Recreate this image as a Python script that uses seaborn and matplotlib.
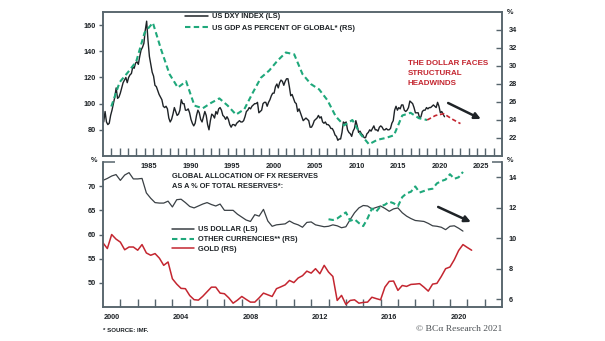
import numpy as np
import pandas as pd
import matplotlib
matplotlib.use("Agg")
import matplotlib.pyplot as plt
from matplotlib.lines import Line2D
import seaborn as sns

sns.set_theme(style="white")
plt.rcParams["font.family"] = ["Liberation Sans", "DejaVu Sans"]
plt.rcParams["font.weight"] = "bold"

INK = "#1e2327"
SPINE = "#56646c"
GREEN = "#1fa87b"
RED = "#c42630"
USD_GREY = "#3a4045"

# ---------------- top panel data ----------------
# US dollar index, bi-monthly readings from 1980
dxy_start = 1980
dxy_per_year = 6
dxy_values = [
    86, 94, 86, 84, 85, 91,
    95, 100, 105, 112, 104, 105,
    108, 112, 116, 118, 120, 116,
    120, 122, 123, 128, 127, 131,
    132, 130, 136, 141, 143, 146,
    156, 163, 148, 136, 130, 124,
    121, 114, 113, 110, 107, 105,
    103, 98, 97, 98, 96, 89,
    86, 88, 92, 97, 94, 91,
    92, 95, 103, 100, 100, 95,
    95, 96, 93, 88, 85, 83,
    85, 91, 95, 93, 88, 86,
    90, 94, 91, 84, 80, 87,
    92, 91, 89, 94, 92, 96,
    97, 95, 91, 90, 88, 90,
    88, 84, 82, 84, 84, 83,
    85, 86, 87, 86, 86, 87,
    90, 94, 95, 97, 96, 98,
    99, 100, 100, 101, 93, 94,
    95, 100, 101, 101, 98, 101,
    103, 106, 108, 108, 113, 115,
    112, 116, 118, 117, 114, 117,
    119, 119, 113, 106, 107, 104,
    101, 100, 94, 96, 93, 90,
    87, 88, 89, 88, 87, 82,
    82, 84, 87, 88, 89, 91,
    89, 90, 86, 85, 86, 84,
    84, 83, 81, 81, 79, 76,
    75, 72, 73, 73, 78, 86,
    85, 86, 80, 78, 77, 75,
    79, 81, 87, 83, 78, 79,
    77, 76, 74, 74, 77, 78,
    80, 79, 81, 83, 80, 80,
    79, 82, 83, 82, 80, 80,
    81, 80, 80, 81, 85, 87,
    95, 98, 95, 97, 96, 99,
    99, 95, 94, 95, 97, 102,
    101, 100, 97, 93, 93, 93,
    89, 90, 94, 95, 95, 97,
    96, 97, 97, 98, 99, 98,
    97, 101, 98, 93, 94, 92,
    90,
]

# US GDP as a percent of global GDP
gdp_years = list(range(1981, 2020))
gdp_share = [
    25.5, 28.2, 29.3, 30.5, 33.7, 34.8, 31.8, 29.1, 27.6, 28.3,
    25.6, 25.3, 25.9, 26.4, 25.6, 24.6, 25.2, 27.0, 28.7, 29.5,
    30.6, 31.5, 31.3, 29.1, 28.0, 27.4, 26.2, 24.4, 23.4, 24.0,
    22.4, 21.3, 21.8, 22.0, 22.3, 24.5, 24.8, 24.2, 24.0,
]
gdp_proj_years = [2019, 2020, 2021, 2022, 2023]
gdp_proj_share = [24.0, 24.5, 24.7, 24.1, 23.6]

top_tick_labels = ["1985", "1990", "1995", "2000", "2005", "2010", "2015", "2020", "2025"]

# ---------------- bottom panel data (quarterly) ----------------
usd_start = 2000.0
usd_share = [
    71.2, 71.6, 72.1, 72.4, 71.2, 72.3, 72.8, 71.5,
    71.5, 71.6, 68.6, 67.5, 66.6, 66.5, 66.5, 66.9,
    65.7, 67.2, 67.3, 66.6, 65.8, 65.5, 65.9, 66.3,
    66.6, 66.2, 65.9, 66.3, 65.0, 65.0, 65.0, 64.2,
    63.6, 63.0, 62.7, 64.1, 63.8, 65.2, 62.8, 61.7,
    62.0, 62.1, 62.2, 62.8, 62.3, 62.0, 61.5, 62.5,
    62.6, 62.0, 61.8, 61.6, 61.7, 62.0, 61.8, 61.4,
    61.6, 63.1, 64.5, 65.5, 66.0, 65.9, 65.3, 65.6,
    65.9, 65.4, 64.8, 65.3, 65.5, 64.5, 63.8, 63.3,
    62.9, 62.8, 62.7, 62.3, 61.8, 61.7, 61.5, 61.0,
    61.7, 61.8, 61.3, 60.7,
]
other_start = 2013.0
other_share = [
    11.25, 11.2, 11.3, 11.5, 11.7, 11.15, 11.25, 11.0,
    10.8, 11.3, 11.95, 11.75, 12.1, 12.2, 12.4, 12.3,
    12.1, 12.7, 12.95, 13.05, 13.4, 13.0, 13.1, 13.2,
    13.25, 13.6, 13.75, 13.85, 14.2, 13.9, 14.0, 14.35,
]
gold_start = 2000.0
gold_share = [
    9.70, 9.33, 10.25, 9.95, 9.75, 9.25, 9.43, 9.43,
    9.22, 9.59, 9.04, 8.89, 9.00, 8.70, 8.23, 8.45,
    7.35, 7.00, 6.72, 6.70, 6.25, 5.98, 5.95, 6.20,
    6.50, 6.80, 6.80, 6.41, 6.37, 6.10, 5.75, 5.95,
    6.19, 6.00, 5.82, 5.82, 6.10, 6.41, 6.30, 6.19,
    6.70, 6.82, 6.95, 7.24, 7.10, 7.40, 7.55, 7.85,
    7.72, 8.01, 7.68, 8.23, 7.79, 7.50, 5.93, 6.26,
    5.67, 5.93, 5.97, 5.75, 5.80, 5.82, 6.14, 6.05,
    5.97, 6.80, 7.18, 7.20, 6.59, 6.91, 6.85, 6.98,
    7.00, 7.03, 6.80, 6.54, 7.00, 7.05, 7.50, 8.01,
    8.12, 8.60, 9.20, 9.59, 9.40, 9.22,
]
bottom_tick_labels = ["2000", "2004", "2008", "2012", "2016", "2020"]

# ---------------- frames ----------------
dxy = pd.DataFrame({
    "date": dxy_start + (np.arange(len(dxy_values)) + 0.5) / dxy_per_year,
    "value": dxy_values,
})
gdp = pd.DataFrame({"date": gdp_years, "value": gdp_share})
gdp_proj = pd.DataFrame({"date": gdp_proj_years, "value": gdp_proj_share})
usd = pd.DataFrame({"date": usd_start + np.arange(len(usd_share)) / 4, "value": usd_share})
other = pd.DataFrame({"date": other_start + np.arange(len(other_share)) / 4, "value": other_share})
gold = pd.DataFrame({"date": gold_start + np.arange(len(gold_share)) / 4, "value": gold_share})

# ---------------- figure layout ----------------
W, H = 605, 341
fig = plt.figure(figsize=(W / 100, H / 100), dpi=100)
fig.patch.set_facecolor("white")


def px_rect(left, top, right, bottom):
    return [left / W, 1 - bottom / H, (right - left) / W, (bottom - top) / H]


ax1 = fig.add_axes(px_rect(103, 12, 502, 156))
ax1r = ax1.twinx()
ax2 = fig.add_axes(px_rect(103, 162, 502, 307))
ax2r = ax2.twinx()

DASH = (0, (2.6, 1.6))

sns.lineplot(data=dxy, x="date", y="value", ax=ax1, color=INK, lw=1.0, estimator=None)
sns.lineplot(data=gdp, x="date", y="value", ax=ax1r, color=GREEN, lw=1.5, linestyle=DASH, estimator=None)
sns.lineplot(data=gdp_proj, x="date", y="value", ax=ax1r, color=RED, lw=1.2, linestyle=DASH, estimator=None)

sns.lineplot(data=usd, x="date", y="value", ax=ax2, color=USD_GREY, lw=0.9, estimator=None)
sns.lineplot(data=other, x="date", y="value", ax=ax2r, color=GREEN, lw=1.5, linestyle=DASH, estimator=None)
sns.lineplot(data=gold, x="date", y="value", ax=ax2r, color=RED, lw=1.1, estimator=None)

# ---------------- axes styling ----------------
ax1.set_xlim(1980, 2028)
ax1.set_ylim(60, 170)
ax1r.set_ylim(20, 36)
ax2.set_xlim(2000, 2023)
ax2.set_ylim(45, 75)
ax2r.set_ylim(5.5, 15)

ax1.set_yticks([80, 100, 120, 140, 160])
ax1r.set_yticks([22, 24, 26, 28, 30, 32, 34])
ax2.set_yticks([50, 55, 60, 65, 70])
ax2r.set_yticks([6, 8, 10, 12, 14])

ax1.set_xticks(np.arange(1981, 2028))
ax1.set_xticklabels([])
ax1.set_xticks([int(t) + 0.5 for t in top_tick_labels], minor=True)
ax1.set_xticklabels(top_tick_labels, minor=True)
ax2.set_xticks(np.arange(2001, 2023))
ax2.set_xticklabels([])
ax2.set_xticks([int(t) + 0.5 for t in bottom_tick_labels], minor=True)
ax2.set_xticklabels(bottom_tick_labels, minor=True)

FS = 5.3
for a in (ax1, ax1r, ax2, ax2r):
    a.set_xlabel("")
    a.set_ylabel("")
    a.set_facecolor("none")
    for s in a.spines.values():
        s.set_color(SPINE)
        s.set_linewidth(1.1)
    a.grid(False)

for a in (ax1, ax2):
    a.tick_params(axis="y", which="major", direction="out", length=3, width=1.0,
                  color=SPINE, labelcolor=INK, labelsize=FS, pad=2)
    a.tick_params(axis="x", which="major", direction="in", length=6, width=1.0,
                  color=SPINE, bottom=True)
    a.tick_params(axis="x", which="minor", length=0, labelsize=FS, labelcolor=INK, pad=5, bottom=True)
for a in (ax1r, ax2r):
    a.tick_params(axis="y", which="major", direction="in", length=4, width=1.0,
                  color=SPINE, labelcolor=INK, labelsize=FS, pad=5, right=True)

# bottom panel top frame is only drawn at the corners
ax2.spines["top"].set_visible(False)
ax2r.spines["top"].set_visible(False)
for x0, x1 in [(0.0, 0.03), (0.975, 1.0)]:
    ax2.plot([x0, x1], [1, 1], transform=ax2.transAxes, color=SPINE, lw=1.1,
             clip_on=False, solid_capstyle="butt")

# unit markers
fig.text(510 / W, 1 - 12 / H, "%", ha="center", va="center", fontsize=FS, color=INK)
fig.text(510 / W, 1 - 161 / H, "%", ha="center", va="center", fontsize=FS, color=INK)
fig.text(94 / W, 1 - 161 / H, "%", ha="center", va="center", fontsize=FS, color=INK)

# ---------------- legends ----------------
top_handles = [
    Line2D([], [], color=INK, lw=1.1),
    Line2D([], [], color=GREEN, lw=1.5, linestyle=DASH),
]
ax1.legend(top_handles, ["US DXY INDEX (LS)", "US GDP AS PERCENT OF GLOBAL* (RS)"],
           loc="upper left", bbox_to_anchor=(185 / W, 1 - 13 / H),
           bbox_transform=fig.transFigure, frameon=False, fontsize=FS,
           handlelength=3.1, handletextpad=0.6, labelspacing=0.62,
           borderpad=0, borderaxespad=0, labelcolor=INK)

bottom_handles = [
    Line2D([], [], color=USD_GREY, lw=1.1),
    Line2D([], [], color=GREEN, lw=1.5, linestyle=DASH),
    Line2D([], [], color=RED, lw=1.1),
]
ax2r.legend(bottom_handles, ["US DOLLAR (LS)", "OTHER CURRENCIES** (RS)", "GOLD (RS)"],
            loc="upper left", bbox_to_anchor=(172 / W, 1 - 226 / H),
            bbox_transform=fig.transFigure, frameon=False, fontsize=FS,
            handlelength=3.0, handletextpad=0.6, labelspacing=0.38,
            borderpad=0, borderaxespad=0, labelcolor=INK)

fig.text(172 / W, 1 - 173.5 / H, "GLOBAL ALLOCATION OF FX RESERVES\nAS A % OF TOTAL RESERVES*:",
         ha="left", va="top", fontsize=FS, color=INK, linespacing=1.4)

# ---------------- annotations ----------------
ax1.text(0.764, 0.665, "THE DOLLAR FACES\nSTRUCTURAL\nHEADWINDS", transform=ax1.transAxes,
         ha="left", va="top", fontsize=5.8, color=RED, linespacing=1.55)
ax1.annotate("", xy=(0.947, 0.257), xytext=(0.865, 0.368),
             xycoords="axes fraction", textcoords="axes fraction",
             arrowprops=dict(arrowstyle="-|>", color=INK, lw=1.8, mutation_scale=9,
                             shrinkA=0, shrinkB=0))
ax2.annotate("", xy=(0.922, 0.586), xytext=(0.840, 0.690),
             xycoords="axes fraction", textcoords="axes fraction",
             arrowprops=dict(arrowstyle="-|>", color=INK, lw=1.8, mutation_scale=9,
                             shrinkA=0, shrinkB=0))

fig.text(103 / W, 1 - 330 / H, "* SOURCE: IMF.", ha="left", va="center", fontsize=4.4, color=INK)
fig.text(502 / W, 1 - 329 / H, "© BCα Research 2021", ha="right", va="center", fontsize=6.8,
         color="#4a4f53", family=["Liberation Serif", "DejaVu Serif"], fontweight="normal")

fig.savefig("out.png", dpi=100, facecolor="white")
